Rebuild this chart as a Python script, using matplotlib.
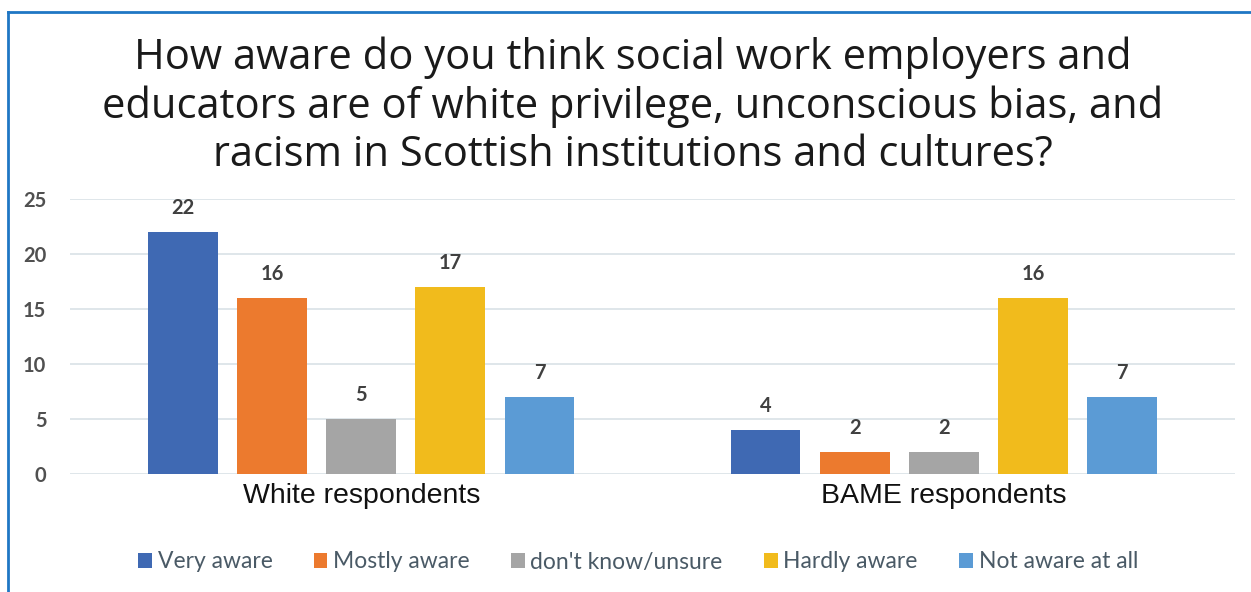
import numpy as np
import matplotlib
matplotlib.use("Agg")
from matplotlib import pyplot as plt
from matplotlib.lines import Line2D

groups = ["White respondents", "BAME respondents"]
series = ["Very aware", "Mostly aware", "don't know/unsure", "Hardly aware", "Not aware at all"]
values = [
    [22, 4],
    [16, 2],
    [5, 2],
    [17, 16],
    [7, 7],
]
colors = ["#3f69b3", "#ec7a2e", "#a5a5a5", "#f1bb1c", "#5b9bd5"]
yticks = [0, 5, 10, 15, 20, 25]

W, H = 1251, 592
fig = plt.figure(figsize=(W / 100, H / 100), dpi=100)
fig.patch.set_facecolor("white")

# blue frame (left and top edges visible)
fig.add_artist(Line2D([8 / W, 8 / W], [0, 1 - 12 / H], transform=fig.transFigure, color="#1f77c4", lw=2))
fig.add_artist(Line2D([8 / W, 1], [1 - 12 / H, 1 - 12 / H], transform=fig.transFigure, color="#1f77c4", lw=2))

fig.text(0.506, 1 - 106 / H,
         "How aware do you think social work employers and\n"
         "educators are of white privilege, unconscious bias, and\n"
         "racism in Scottish institutions and cultures?",
         ha="center", va="center", fontsize=30, family="Open Sans",
         color="#1a1a1a", linespacing=1.2)

left, right = 70 / W, 1235 / W
bottom, top = 1 - 474 / H, 1 - 199 / H
ax = fig.add_axes([left, bottom, right - left, top - bottom])
ax.set_facecolor("white")

n = len(series)
width = 0.12
step = 0.153
x = np.arange(len(groups))
for i, (name, vals, c) in enumerate(zip(series, values, colors)):
    pos = x + (i - (n - 1) / 2) * step
    bars = ax.bar(pos, vals, width=width, color=c, label=name, zorder=3)
    for b, v in zip(bars, vals):
        ax.text(b.get_x() + b.get_width() / 2, v + 1.3, str(v), ha="center", va="bottom",
                fontsize=14.5, color="#404040", family="Lato", weight="bold", clip_on=False)

ax.set_xlim(-0.5, 1.5)
ax.set_ylim(0, 25)
ax.set_yticks(yticks)
ax.set_yticklabels([str(t) for t in yticks], family="Lato", fontsize=14.5, color="#505050",
                   weight="bold")
ax.yaxis.grid(True, color="#d9e1e6", lw=1.2, zorder=0)
ax.set_axisbelow(True)
ax.tick_params(axis="y", length=0, pad=17)
ax.tick_params(axis="x", length=0)
ax.set_xticks([])
for s in ax.spines.values():
    s.set_visible(False)

# category labels in white boxes
for xi, g in zip(x, groups):
    ax.text(xi, -2.0, g, ha="center", va="center", fontsize=20.5, family="Liberation Sans",
            color="#111111", clip_on=False,
            bbox=dict(facecolor="white", edgecolor="none", pad=6))

leg = fig.legend(loc="center", bbox_to_anchor=(0.51, 1 - 562 / H), ncol=5, frameon=False,
                 prop={"family": "Lato", "size": 16.5}, handlelength=0.6, handleheight=0.6,
                 handletextpad=0.25, columnspacing=1.8)
for t in leg.get_texts():
    t.set_color("#4a5a66")

fig.savefig("out.png", dpi=100)
